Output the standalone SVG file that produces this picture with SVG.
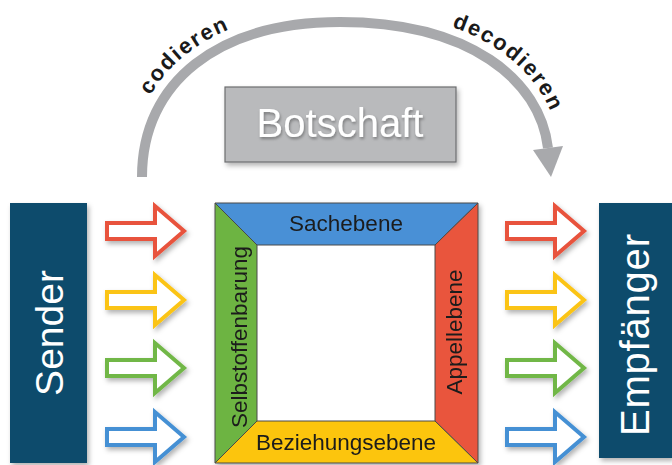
<svg xmlns="http://www.w3.org/2000/svg" xmlns:xlink="http://www.w3.org/1999/xlink" width="672" height="465" viewBox="0 0 672 465">
<defs>
<style>
.box{fill:#0d4b6c}
.white{fill:#ffffff;font-family:"Liberation Sans",Arial,sans-serif}
.lbl{fill:#1b1b1b;font-family:"Liberation Sans",Arial,sans-serif;font-size:22.5px}
.arr{fill:#ffffff;stroke-width:4;stroke-linejoin:miter}
.band{stroke:#4a4a4a;stroke-width:1}
.arc{fill:none;stroke:#a8a9ac;stroke-width:10}
.arclbl{fill:#1a1a1a;font-family:"Liberation Sans",Arial,sans-serif;font-weight:bold;font-size:22px;letter-spacing:1.8px}
</style>
<filter id="sh" x="-20%" y="-20%" width="150%" height="150%">
<feDropShadow dx="2" dy="3" stdDeviation="2.5" flood-color="#000" flood-opacity="0.3"/>
</filter>
<filter id="tsh" x="-10%" y="-20%" width="120%" height="150%">
<feDropShadow dx="1" dy="2" stdDeviation="1.5" flood-color="#000" flood-opacity="0.35"/>
</filter>
<path id="arrowShape" d="M0,-8 H48 V-25 L77,0 L48,25 V8 H0 Z"/>
<path id="textArc" d="M130,177 C130,70 213,10 340,10 C479,10 552,72 560,148"/>
</defs>

<g id="connectors">
<g id="arc">
<path class="arc" d="M142,177 C142,82 218,22 340,22 C470,22 540,80 548,148"/>
<polygon points="533,150 563,146 551,177" fill="#a8a9ac"/>
<text class="arclbl" text-anchor="middle"><textPath xlink:href="#textArc" href="#textArc" startOffset="138">codieren</textPath></text>
<text class="arclbl" text-anchor="middle"><textPath xlink:href="#textArc" href="#textArc" startOffset="484">decodieren</textPath></text>
</g>
<g id="arrows-left" filter="url(#sh)">
<use href="#arrowShape" xlink:href="#arrowShape" class="arr" stroke="#e8523c" transform="translate(107,231)"/>
<use href="#arrowShape" xlink:href="#arrowShape" class="arr" stroke="#fbc414" transform="translate(107,300)"/>
<use href="#arrowShape" xlink:href="#arrowShape" class="arr" stroke="#71b747" transform="translate(107,368)"/>
<use href="#arrowShape" xlink:href="#arrowShape" class="arr" stroke="#4590d4" transform="translate(107,437)"/>
</g>
<g id="arrows-right" filter="url(#sh)">
<use href="#arrowShape" xlink:href="#arrowShape" class="arr" stroke="#e8523c" transform="translate(507,231)"/>
<use href="#arrowShape" xlink:href="#arrowShape" class="arr" stroke="#fbc414" transform="translate(507,300)"/>
<use href="#arrowShape" xlink:href="#arrowShape" class="arr" stroke="#71b747" transform="translate(507,368)"/>
<use href="#arrowShape" xlink:href="#arrowShape" class="arr" stroke="#4590d4" transform="translate(507,437)"/>
</g>
</g>

<g id="botschaft">
<rect x="225" y="87" width="231" height="75" fill="#b9babc" stroke="#6d6e70" stroke-width="1.2" filter="url(#sh)"/>
<text class="white" x="340" y="137" font-size="40" text-anchor="middle" filter="url(#tsh)">Botschaft</text>
</g>

<g id="sender">
<rect class="box" x="10" y="203" width="77" height="260" filter="url(#sh)"/>
<text class="white" font-size="39" text-anchor="middle" transform="translate(63,333) rotate(-90)">Sender</text>
</g>

<g id="empfaenger">
<rect class="box" x="599" y="203" width="73" height="255" filter="url(#sh)"/>
<text class="white" font-size="40" text-anchor="middle" textLength="202" lengthAdjust="spacing" transform="translate(649,335) rotate(-90)">Empfänger</text>
</g>

<g id="square" filter="url(#sh)">
<rect x="257" y="245" width="178" height="176" fill="#ffffff"/>
<g id="sachebene">
<polygon class="band" points="215,203 478,203 435,245 257,245" fill="#4a90d6"/>
<text class="lbl" x="346" y="231" text-anchor="middle">Sachebene</text>
</g>
<g id="appellebene">
<polygon class="band" points="478,203 478,463 435,421 435,245" fill="#e9553d"/>
<text class="lbl" text-anchor="middle" transform="translate(462,332) rotate(-90)">Appellebene</text>
</g>
<g id="beziehungsebene">
<polygon class="band" points="215,463 478,463 435,421 257,421" fill="#fcc50d"/>
<text class="lbl" x="346" y="450" text-anchor="middle">Beziehungsebene</text>
</g>
<g id="selbstoffenbarung">
<polygon class="band" points="215,203 257,245 257,421 215,463" fill="#6db443"/>
<text class="lbl" font-size="22" text-anchor="middle" transform="translate(247,337) rotate(-90)">Selbstoffenbarung</text>
</g>
</g>
</svg>
